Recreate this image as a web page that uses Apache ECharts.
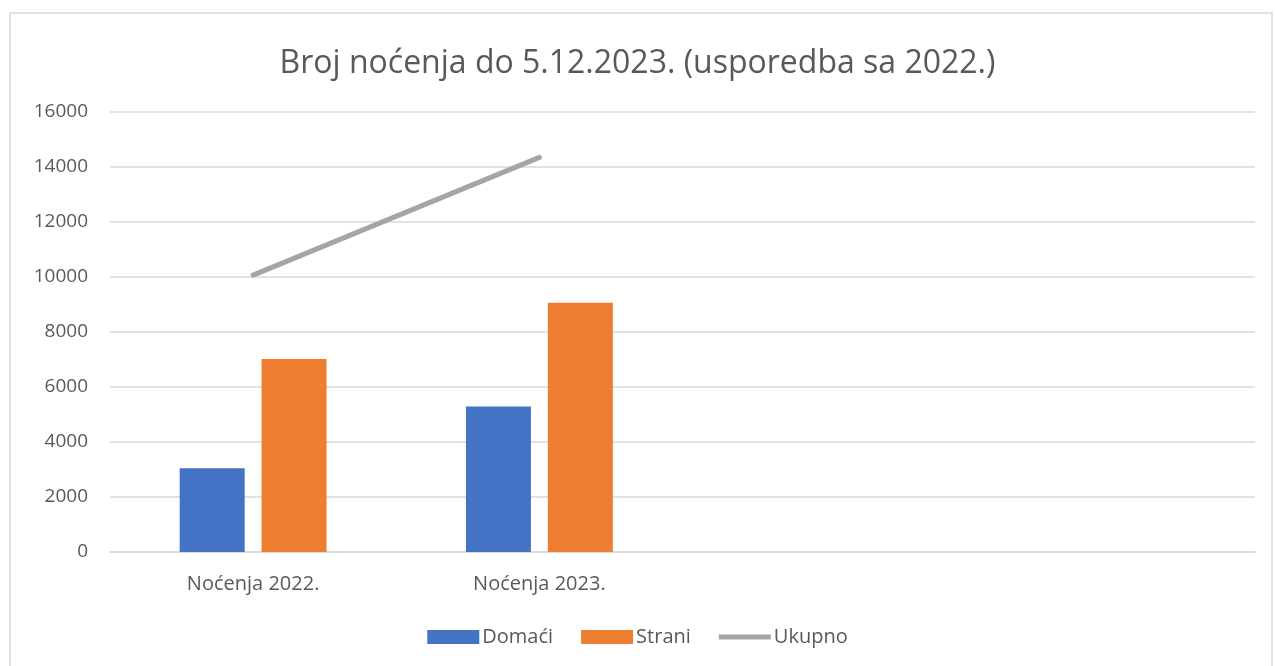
<!DOCTYPE html>
<html>
<head>
<meta charset="utf-8">
<script src="https://cdn.jsdelivr.net/npm/echarts@6/dist/echarts.min.js"></script>
<style>
  html, body { margin: 0; padding: 0; background: #fff; }
  #chart { width: 1275px; height: 666px; }
</style>
</head>
<body>
<div id="chart"></div>
<script>
// broj noćenja, usporedba 2022/2023
var categories = ['Noćenja 2022.', 'Noćenja 2023.', '', ''];
var domaci = [3050, 5290, null, null];
var strani = [7020, 9060, null, null];
var ukupno = [10070, 14350, null, null];
var yTicks = [0, 2000, 4000, 6000, 8000, 10000, 12000, 14000, 16000];

var fontFam = '"Open Sans", "Noto Sans", sans-serif';
var grey = '#595959';

var myChart = echarts.init(document.getElementById('chart'));
var option = {
  animation: false,
  graphic: [{
    type: 'rect',
    shape: { x: 10, y: 13, width: 1262, height: 660 },
    style: { fill: 'none', stroke: '#d9d9d9', lineWidth: 1.5 },
    silent: true
  }],
  title: {
    text: 'Broj noćenja do 5.12.2023. (usporedba sa 2022.)',
    left: 'center',
    top: 43,
    textStyle: { color: grey, fontFamily: fontFam, fontSize: 32, fontWeight: 'normal' }
  },
  legend: {
    bottom: 14,
    left: 'center',
    itemWidth: 52,
    itemHeight: 14,
    itemGap: 28,
    symbolKeepAspect: true,
    textStyle: { color: grey, fontFamily: fontFam, fontSize: 20, padding: [0, 0, 0, -2] },
    data: [
      { name: 'Domaći', icon: 'rect' },
      { name: 'Strani', icon: 'rect' },
      { name: 'Ukupno', icon: 'path://M0,0h52v5h-52z' }
    ]
  },
  grid: { left: 110, right: 20, top: 112, bottom: 114 },
  xAxis: {
    type: 'category',
    data: categories,
    axisLine: { lineStyle: { color: '#d9d9d9', width: 1.5 } },
    axisTick: { show: false },
    axisLabel: { color: grey, fontFamily: fontFam, fontSize: 20, margin: 22 }
  },
  yAxis: {
    type: 'value',
    min: yTicks[0],
    max: yTicks[yTicks.length - 1],
    interval: 2000,
    axisLine: { show: false },
    axisTick: { show: false },
    axisLabel: {
      color: grey, fontFamily: fontFam, fontSize: 19, margin: 22,
      formatter: function (v) { return String(v); }
    },
    splitLine: { lineStyle: { color: '#d9d9d9', width: 1.5 } }
  },
  series: [{
    name: 'Domaći',
    type: 'bar',
    data: domaci,
    barWidth: 65,
    barGap: '26%',
    itemStyle: { color: '#4472c4' }
  }, {
    name: 'Strani',
    type: 'bar',
    data: strani,
    barWidth: 65,
    barGap: '26%',
    itemStyle: { color: '#ed7d31' }
  }, {
    name: 'Ukupno',
    type: 'line',
    data: ukupno,
    symbol: 'none',
    connectNulls: false,
    lineStyle: { color: '#a5a5a5', width: 5, cap: 'round' },
    itemStyle: { color: '#a5a5a5' }
  }]
};
myChart.setOption(option);
</script>
</body>
</html>
